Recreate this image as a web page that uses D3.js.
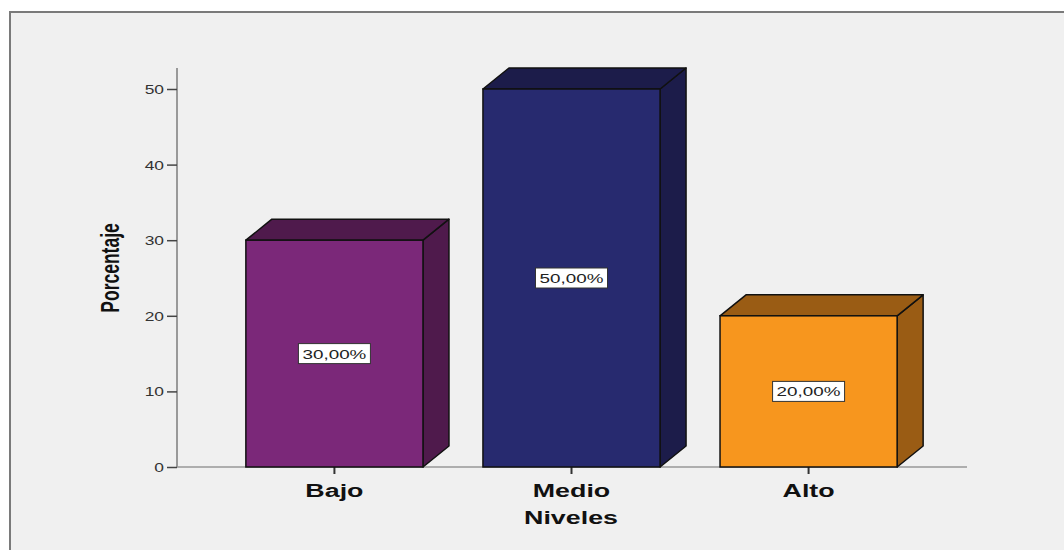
<!DOCTYPE html>
<html><head><meta charset="utf-8">
<script src="https://cdn.jsdelivr.net/npm/d3@7"></script>
<style>html,body{margin:0;padding:0;background:#fff;}svg{display:block;}</style>
</head><body>
<script>
const categories = ["Bajo", "Medio", "Alto"];
const values = [30, 50, 20];
const labels = ["30,00%", "50,00%", "20,00%"];
const frontColors = ["#7b2879", "#272a6f", "#f7961e"];
const sideColors = ["#4f1a4c", "#1c1c4a", "#9a5c14"];
const yTicks = [0, 10, 20, 30, 40, 50];

const W = 1064, H = 550;
const SX = 1.45; // horizontal stretch of the text in the original
const FONT = "Liberation Sans, Arial, sans-serif";
const svg = d3.select("body").append("svg").attr("width", W).attr("height", H);

function stretchedText(x, y, txt, size, weight, anchor, color) {
  return svg.append("text")
    .attr("transform", `translate(${x},${y}) scale(${SX},1)`)
    .attr("text-anchor", anchor)
    .style("font-family", FONT).style("font-size", size + "px").style("font-weight", weight)
    .attr("fill", color).text(txt);
}

// frame
svg.append("rect").attr("x", 10).attr("y", 12).attr("width", W + 20).attr("height", H + 20)
  .attr("fill", "#f0f0f0").attr("stroke", "#7a7a7a").attr("stroke-width", 2);

const y = d3.scaleLinear().domain([0, 50]).range([467, 89]);
const x = d3.scaleBand().domain(categories).range([216, 927]).paddingInner(0.253).paddingOuter(0.126);
const dx = 26, dy = -21;

// axes lines
svg.append("line").attr("x1", 177).attr("x2", 177).attr("y1", 68).attr("y2", 467)
  .attr("stroke", "#999").attr("stroke-width", 2);
svg.append("line").attr("x1", 176).attr("x2", 967).attr("y1", 467).attr("y2", 467)
  .attr("stroke", "#999").attr("stroke-width", 1.5);

const yAxis = d3.axisLeft(y).tickValues(yTicks).tickSize(10).tickFormat("");
const gy = svg.append("g").attr("transform", "translate(177,0)").call(yAxis);
gy.select(".domain").remove();
gy.selectAll(".tick line").attr("stroke", "#444").attr("stroke-width", 1.5);
yTicks.forEach(t => stretchedText(164, y(t) + 5, d3.format("d")(t), 12, "normal", "end", "#333"));

const xAxis = d3.axisBottom(x).tickSize(7).tickFormat("");
const gx = svg.append("g").attr("transform", "translate(0,467)").call(xAxis);
gx.select(".domain").remove();
gx.selectAll(".tick line").attr("stroke", "#333").attr("stroke-width", 2);
categories.forEach(c => stretchedText(x(c) + x.bandwidth() / 2, 497, c, 18.5, "bold", "middle", "#111"));

// bars
const bars = svg.append("g").selectAll("g").data(categories).join("g");
bars.each(function(c, i) {
  const g = d3.select(this);
  const x0 = x(c), x1 = x(c) + x.bandwidth(), yt = y(values[i]), yb = y(0);
  g.append("path").attr("d", `M${x1},${yb}L${x1 + dx},${yb + dy}L${x1 + dx},${yt + dy}L${x1},${yt}Z`)
    .attr("fill", sideColors[i]).attr("stroke", "#111").attr("stroke-width", 1.5).attr("stroke-linejoin", "round");
  g.append("path").attr("d", `M${x0},${yt}L${x0 + dx},${yt + dy}L${x1 + dx},${yt + dy}L${x1},${yt}Z`)
    .attr("fill", sideColors[i]).attr("stroke", "#111").attr("stroke-width", 1.5).attr("stroke-linejoin", "round");
  g.append("rect").attr("x", x0).attr("y", yt).attr("width", x.bandwidth()).attr("height", yb - yt)
    .attr("fill", frontColors[i]).attr("stroke", "#111").attr("stroke-width", 1.5);
  const cx = x0 + x.bandwidth() / 2, cy = y(values[i] / 2);
  g.append("rect").attr("x", cx - 36).attr("y", cy - 10).attr("width", 72).attr("height", 20)
    .attr("fill", "#fff").attr("stroke", "#333").attr("stroke-width", 1);
});
categories.forEach((c, i) => {
  stretchedText(x(c) + x.bandwidth() / 2, y(values[i] / 2) + 5, labels[i], 13, "normal", "middle", "#222");
});

// axis titles
stretchedText(571, 524, "Niveles", 18.5, "bold", "middle", "#111");
svg.append("text").attr("transform", `translate(119,268) scale(${SX},1) rotate(-90)`).attr("text-anchor", "middle")
  .style("font-family", FONT).style("font-size", "17.5px").style("font-weight", "bold")
  .attr("fill", "#111").text("Porcentaje");
</script>
</body></html>
